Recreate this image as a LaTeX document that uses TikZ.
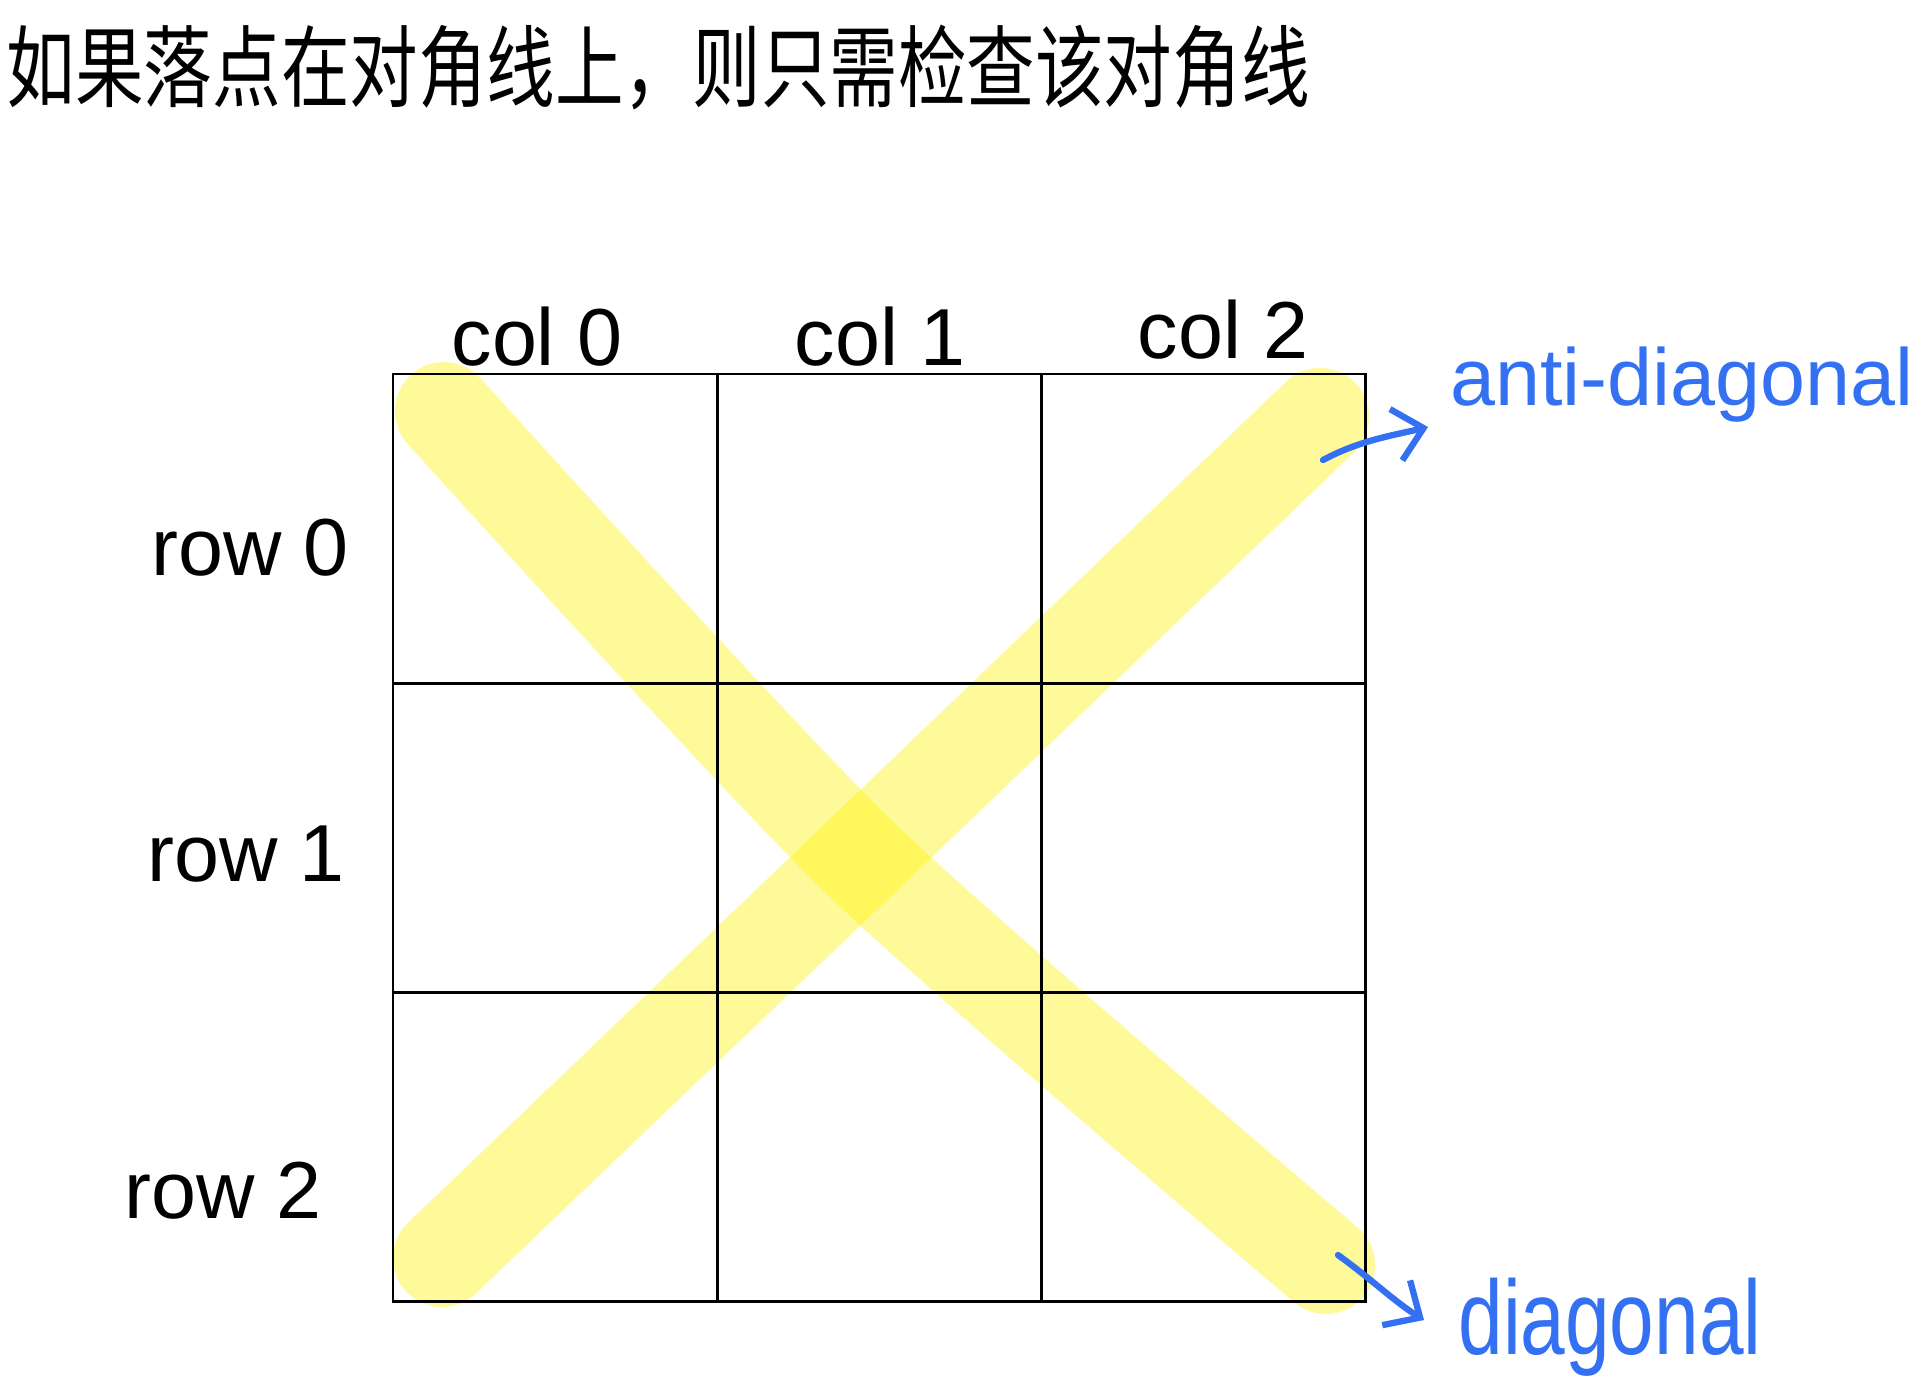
\documentclass[tikz,border=0pt]{standalone}
\usepackage{fontspec}
\setmainfont{Liberation Sans}
\newfontfamily\cjk{Noto Sans CJK SC}
\usetikzlibrary{positioning, arrows.meta}
\usepackage{xcolor}
\definecolor{penblue}{HTML}{3371F2}

\begin{document}
\begin{tikzpicture}[x=0.01cm, y=-0.01cm, node distance=3.09cm and 3.24cm, on grid,
    cell/.style={draw, line width=0.8pt, minimum width=3.24cm, minimum height=3.09cm, inner sep=0pt},
    lbl/.style={anchor=base, inner sep=0pt, font=\fontsize{23}{23}\selectfont},
    marker/.style={yellow, opacity=0.4, line width=0.98cm, line cap=round, line join=round},
    pen/.style={penblue, line width=1.8pt, line cap=round, -{Straight Barb[length=8pt, width=15pt]}},
    note/.style={penblue, anchor=base, inner sep=0pt}]
   \useasboundingbox (0,0) rectangle (1925,1396);
   % 标题
   \node[anchor=west, inner sep=0pt, font=\cjk\fontsize{19.5}{19.5}\selectfont] (title) at (6,68)
      {\scalebox{1}[1.3]{如果落点在对角线上，则只需检查该对角线}};

   % 两条对角线的高亮
   \draw[marker] plot[smooth, tension=0.4] coordinates {(444,411) (860,858) (1326,1265)};
   \draw[marker] plot[smooth, tension=0.4] coordinates {(1320,417) (860,858) (442,1258)};

   % 3x3 棋盘
   \node[cell] (c_00) at (555,528.5) {};
   \node[cell] (c_01) [right=of c_00] {};
   \node[cell] (c_02) [right=of c_01] {};
   \node[cell] (c_10) [below=of c_00] {};
   \node[cell] (c_11) [right=of c_10] {};
   \node[cell] (c_12) [right=of c_11] {};
   \node[cell] (c_20) [below=of c_10] {};
   \node[cell] (c_21) [right=of c_20] {};
   \node[cell] (c_22) [right=of c_21] {};

   % 行列标签
   \node[lbl] (col_0) at (537,365) {col 0};
   \node[lbl] (col_1) at (880,365) {col 1};
   \node[lbl] (col_2) at (1223,358) {col 2};
   \node[lbl] (row_0) at (250,575) {row 0};
   \node[lbl] (row_1) at (246,881) {row 1};
   \node[lbl] (row_2) at (223,1218) {row 2};

   % 蓝色注释
   \node[note, font=\fontsize{23}{23}\selectfont] (anti_lbl) at (1682,405) {anti-diagonal};
   \node[note, font=\fontsize{30}{30}\selectfont] (diag_lbl) at (1610,1354) {\scalebox{0.76}[1]{diagonal}};
   \coordinate (anti_tail) at (1323,460);
   \coordinate (anti_head) at (1428,427);
   \coordinate (diag_tail) at (1338,1255);
   \coordinate (diag_head) at (1424,1320);
   \draw[pen] (anti_tail) .. controls (1360,440) and (1395,435) .. (anti_head);
   \draw[pen] (diag_tail) .. controls (1370,1278) and (1395,1302) .. (diag_head);
\end{tikzpicture}
\end{document}
